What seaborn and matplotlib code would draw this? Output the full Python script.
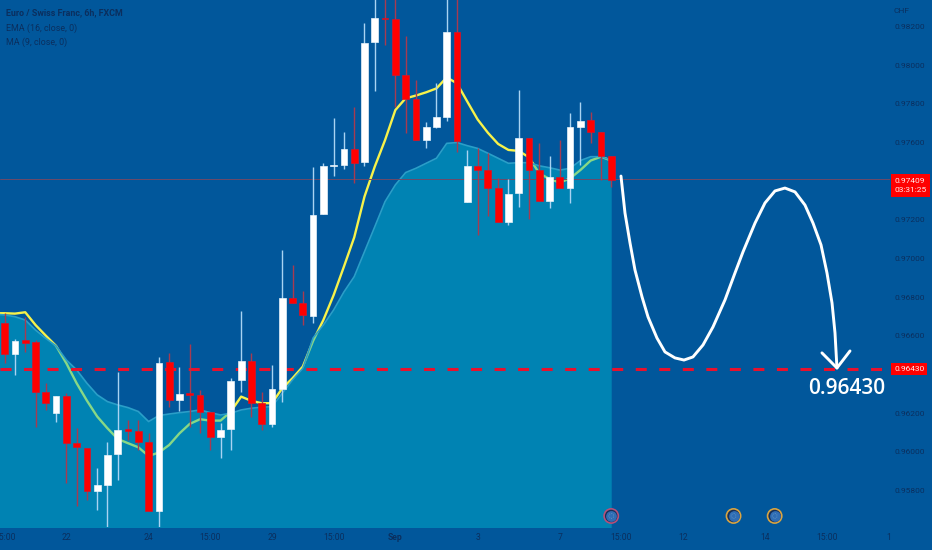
import numpy as np
import matplotlib
matplotlib.use('Agg')
import matplotlib.pyplot as plt
import seaborn as sns

opens = [.96668,.96507,.96577,.96567,.96308,.96203,.96291,.96048,.96021,.95797,
         .95831,.95990,.96117,.96107,.96052,.95695,.96463,.96267,.96307,.96296,
         .96205,.96076,.96117,.96370,.96472,.96253,.96146,.96327,.96794,.96772,
         .96703,.97230,.97479,.97485,.97568,.97497,.98119,.98245,.98236,.97950,
         .97824,.97612,.97681,.97733,.98171,.97294,.97480,.97457,.97363,.97190,
         .97337,.97624,.97457,.97297,.97423,.97366,.97681,.97714,.97655,.97528]
highs = [.96717,.96582,.96699,.96579,.96355,.96289,.96307,.96122,.96021,.95916,
         .96053,.96415,.96165,.96165,.96096,.96493,.96513,.96441,.96558,.96320,
         .96205,.96148,.96381,.96729,.96510,.96312,.96450,.97044,.96966,.96834,
         .97475,.97492,.97724,.97655,.97785,.98219,.98400,.98400,.98400,.98150,
         .97922,.97707,.97905,.98400,.98400,.97561,.97569,.97547,.97414,.97411,
         .97871,.97624,.97595,.97530,.97612,.97750,.97809,.97755,.97655,.97528]
lows = [.96458,.96398,.96519,.96128,.96217,.96157,.95838,.95718,.95752,.95700,
        .95614,.95855,.96062,.96010,.95695,.95614,.96231,.96214,.96131,.96096,
        .96010,.95971,.96010,.96312,.96183,.96114,.96128,.96260,.96768,.96656,
        .96665,.97230,.97428,.97461,.97392,.97479,.97867,.98103,.97785,.97647,
        .97611,.97569,.97673,.97711,.97552,.97294,.97121,.97220,.97190,.97171,
        .97264,.97202,.97295,.97259,.97364,.97285,.97483,.97595,.97406,.97371]
closes = [.96507,.96572,.96562,.96308,.96252,.96289,.96048,.96024,.95797,.95828,
          .95985,.96114,.96107,.96052,.95695,.96460,.96267,.96302,.96295,.96207,
          .96076,.96114,.96367,.96469,.96252,.96146,.96324,.96794,.96768,.96710,
          .97227,.97478,.97485,.97568,.97495,.98115,.98243,.98236,.97950,.97824,
          .97611,.97678,.97730,.98171,.97606,.97478,.97457,.97364,.97190,.97332,
          .97623,.97457,.97295,.97421,.97364,.97678,.97712,.97655,.97528,.97407]

# first value sits one bar left of the chart edge
yellow_line = [.96717,.96717,.96715,.96722,.96656,.96601,.96548,.96458,.96355,.96265,.96183,
               .96122,.96067,.96045,.96024,.95979,.95997,.96036,.96096,.96145,.96169,
               .96162,.96162,.96209,.96286,.96264,.96252,.96252,.96329,.96381,.96441,
               .96574,.96682,.96811,.96958,.97109,.97320,.97475,.97612,.97767,.97828,
               .97842,.97859,.97879,.97936,.97905,.97811,.97719,.97650,.97592,.97561,
               .97556,.97523,.97440,.97411,.97392,.97414,.97457,.97506,.97526,.97506]
area_top = [.96712,.96708,.96699,.96682,.96630,.96587,.96548,.96475,.96424,.96355,.96295,
            .96260,.96243,.96229,.96209,.96157,.96188,.96196,.96203,.96209,.96217,
            .96203,.96191,.96200,.96217,.96226,.96231,.96234,.96303,.96372,.96432,
            .96589,.96656,.96734,.96827,.96906,.97035,.97164,.97294,.97380,.97444,
            .97466,.97492,.97518,.97595,.97599,.97583,.97569,.97544,.97518,.97492,
            .97495,.97495,.97479,.97469,.97457,.97466,.97506,.97526,.97526,.97509]

curve_x = [59.95,60.34,60.83,61.31,62.0,62.58,63.45,64.23,65.2,66.08,66.95,67.93,68.9,70.07,
           71.04,71.82,72.99,73.96,74.93,75.9,76.88,77.85,78.63,79.41,79.99,80.48,80.77,80.96]
curve_y = [.97426,.97235,.97080,.96941,.96801,.96698,.96589,.96517,.96486,.96475,.96491,.96553,.96646,.96786,
           .96925,.97034,.97183,.97287,.97349,.97364,.97344,.97276,.97183,.97070,.96925,.96770,.96615,.96434]
head_x = [79.5,80.96,82.23]
head_y = [.96512,.96434,.96522]

x_tick_pos = [0,6,14,20,26,32,38,46,54,60,66,74,80,86]
x_tick_labels = ['15:00','22','24','15:00','29','15:00','Sep','3','7','15:00','12','14','15:00','1']
y_ticks = [.958,.960,.962,.966,.968,.970,.972,.976,.978,.980,.982]
event_x = [59,70.9,74.9]
event_colors = ['#B5507A','#D9A441','#D9A441']
target = 0.96430
last_price = 0.97409

BG = '#01579B'
DARK = '#0B2F5E'

sns.set_theme(style='dark', rc={'axes.facecolor':BG,'figure.facecolor':BG,'axes.grid':False})
plt.rcParams['font.family'] = ['Roboto','DejaVu Sans']

fig = plt.figure(figsize=(9.32,5.5), dpi=100)
ax = fig.add_axes([0, 23/550, 890/932, 527/550])
ax.set_xlim(-0.457, 86.12)
ax.set_ylim(0.95612, 0.98336)

idx = np.arange(60)
line_x = np.arange(-1,60)

# yellow line goes under the area so it turns green where they overlap
sns.lineplot(x=line_x, y=yellow_line, color='#F7F24A', linewidth=1.7, ax=ax, zorder=2, errorbar=None)
ax.fill_between(line_x, 0.95, area_top, color='#00B9D1', alpha=0.45, linewidth=0, zorder=3)
sns.lineplot(x=line_x, y=area_top, color='#2A9FC8', linewidth=1.2, ax=ax, zorder=3, errorbar=None)

ax.axhline(last_price, color='#6E4A68', linewidth=0.7, zorder=3.5)
ax.plot([-0.457,86.12],[target,target], color='#E8112D', linewidth=2.2, dashes=(3.6,4.1), zorder=4)

o = np.array(opens); c = np.array(closes)
up = c >= o
ax.vlines(idx[up], np.array(lows)[up], np.array(highs)[up], color='#A9D3F2', linewidth=1.0, zorder=5)
ax.vlines(idx[~up], np.array(lows)[~up], np.array(highs)[~up], color='#A83A50', linewidth=1.0, zorder=5)
body_low = np.minimum(o,c); body_h = np.abs(c-o)
ax.bar(idx[up], body_h[up], bottom=body_low[up], width=0.66, color='white', edgecolor='#E8F2FA', linewidth=0.5, zorder=6)
ax.bar(idx[~up], body_h[~up], bottom=body_low[~up], width=0.66, color='#FF0000', edgecolor='#D8132A', linewidth=0.5, zorder=6)

sns.lineplot(x=curve_x, y=curve_y, color='white', linewidth=2.1, sort=False, ax=ax, zorder=7, errorbar=None,
             solid_joinstyle='round', solid_capstyle='round')
sns.lineplot(x=head_x, y=head_y, color='white', linewidth=2.1, sort=False, ax=ax, zorder=7, errorbar=None,
             solid_joinstyle='round')
ax.text(81.9, 0.9633, '0.96430', color='white', fontsize=15, family='Open Sans', fontweight='semibold',
        ha='center', va='center', zorder=8)

# event markers on the time scale
event_y = [0.95669]*len(event_x)
ax.scatter(event_x, event_y, s=105, c='#16305A', edgecolors=event_colors, linewidths=1.2, zorder=8)
ax.scatter(event_x, event_y, s=60, c='#2F6DB5', linewidths=0, zorder=9)
ax.scatter(event_x, event_y, s=12, facecolors='none', edgecolors='#6FA0C8', linewidths=0.6, linestyles=':', zorder=10)

ax.set_xticks(x_tick_pos)
ax.set_xticklabels(x_tick_labels, fontsize=6.2, color=DARK)
for lab in ax.get_xticklabels():
    if lab.get_text() == 'Sep':
        lab.set_fontweight('bold')
ax.set_yticks(y_ticks)
ax.set_yticklabels([f'{v:.5f}' for v in y_ticks], fontsize=6, color=DARK)
ax.yaxis.tick_right()
ax.tick_params(length=0, axis='x', pad=4.5)
ax.tick_params(length=0, axis='y', pad=3)
sns.despine(ax=ax, left=True, right=True, top=True, bottom=True)

trans = ax.get_yaxis_transform()
ax.text(1.0045, last_price-0.00032, '0.97409\n03:31:25', transform=trans, color='#FFE9E9', fontsize=6, va='center', ha='left',
        linespacing=1.75, clip_on=False, zorder=12,
        bbox=dict(boxstyle='square,pad=0.42', facecolor='#FF0000', edgecolor='none'))
ax.text(1.0045, target, '0.96430', transform=trans, color='#FFE9E9', fontsize=6, va='center', ha='left',
        clip_on=False, zorder=12, bbox=dict(boxstyle='square,pad=0.34', facecolor='#FF0000', edgecolor='none'))

fig.text(894/932, 1-11/550, 'CHF', color=DARK, fontsize=6, va='center')
fig.text(6/932, 1-13/550, 'Euro / Swiss Franc, 6h, FXCM', color=DARK, fontsize=6.4, fontweight='bold', va='center')
fig.text(6/932, 1-28/550, 'EMA (16, close, 0)', color=DARK, fontsize=6.4, va='center')
fig.text(6/932, 1-42/550, 'MA (9, close, 0)', color=DARK, fontsize=6.4, va='center')

fig.savefig('out.png', dpi=100, facecolor=BG)
plt.close()
